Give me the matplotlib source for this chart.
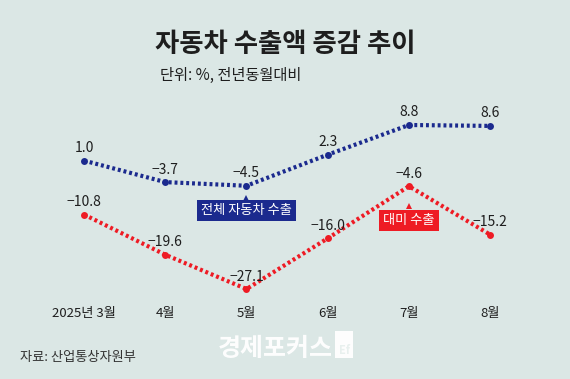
import matplotlib
matplotlib.use("Agg")
import matplotlib.pyplot as plt
from matplotlib.patches import Rectangle
from matplotlib.transforms import ScaledTranslation
import numpy as np

plt.rcParams['font.family'] = ['Noto Sans CJK KR', 'DejaVu Sans']

months = ["2025년 3월", "4월", "5월", "6월", "7월", "8월"]
total_export = [1.0, -3.7, -4.5, 2.3, 8.8, 8.6]
us_export = [-10.8, -19.6, -27.1, -16.0, -4.6, -15.2]

BG = "#dbe7e5"
BLUE = "#1b2a8e"
RED = "#ee1b24"
TXT = "#1e1e1e"

W, H = 570, 379
fig = plt.figure(figsize=(W / 100, H / 100), dpi=100, facecolor=BG)
# axes spans pixels x 40..530, y 100..300
ax = fig.add_axes([40 / W, 1 - 300 / H, 490 / W, 200 / H])
ax.set_facecolor(BG)
x = np.arange(len(months))

dots = (0, (0.7, 0.7))
ax.plot(x, total_export, color=BLUE, lw=3, linestyle=dots, marker="o", ms=5,
        markeredgewidth=0)
ax.plot(x, us_export, color=RED, lw=3, linestyle=dots, marker="o", ms=5,
        markeredgewidth=0)

for vals in (total_export, us_export):
    for xi, v in zip(x, vals):
        ax.annotate(f"{v:.1f}".replace("-", "\u2212"), (xi, v), xytext=(0, 9),
                    textcoords="offset points", ha="center", va="center",
                    fontsize=10, color=TXT)


def tag(i, vals, text, color, box_dy, tri_dy):
    # series label box with a small pointer above it
    ax.annotate(text, (x[i], vals[i]), xytext=(0, box_dy), textcoords="offset points",
                ha="center", va="center", fontsize=9.5, color="white",
                bbox=dict(boxstyle="square,pad=0.3", fc=color, ec="none"))
    ax.plot(x[i], vals[i], marker="^", ms=4, color=color, markeredgewidth=0,
            transform=ax.transData + ScaledTranslation(0, tri_dy / 72, fig.dpi_scale_trans))


tag(2, total_export, "전체 자동차 수출", BLUE, -18, -8.6)
tag(4, us_export, "대미 수출", RED, -24.5, -14.4)

ax.set_xlim(-0.542, 5.49)
ax.set_ylim(-29.5, 14.27)
ax.set_xticks(x)
ax.set_xticklabels(months, fontsize=9.5, color=TXT)
ax.tick_params(axis="x", length=0, pad=5)
ax.set_yticks([])
for s in ax.spines.values():
    s.set_visible(False)

fig.text(285 / W, 1 - 45 / H, "자동차 수출액 증감 추이", ha="center", va="center",
         fontsize=19, fontweight="bold", color=TXT)
fig.text(160 / W, 1 - 75 / H, "단위: %, 전년동월대비", ha="left", va="center",
         fontsize=11, color=TXT)
fig.text(20 / W, 1 - 358 / H, "자료: 산업통상자원부", ha="left", va="center",
         fontsize=9.5, color="#333333")

# watermark
fig.text(218 / W, 1 - 349 / H, "경제포커스", ha="left", va="center",
         fontsize=18, fontweight="bold", color="white", alpha=0.95)
fig.patches.append(Rectangle((335 / W, 1 - 358 / H), 18 / W, 27 / H,
                             transform=fig.transFigure, fc="white", ec="none", alpha=0.95))
fig.text(344 / W, 1 - 351 / H, "Ef", ha="center", va="center",
         fontsize=8, fontweight="bold", color="#e8f0ee")

fig.savefig("out.png", dpi=100, facecolor=BG)
